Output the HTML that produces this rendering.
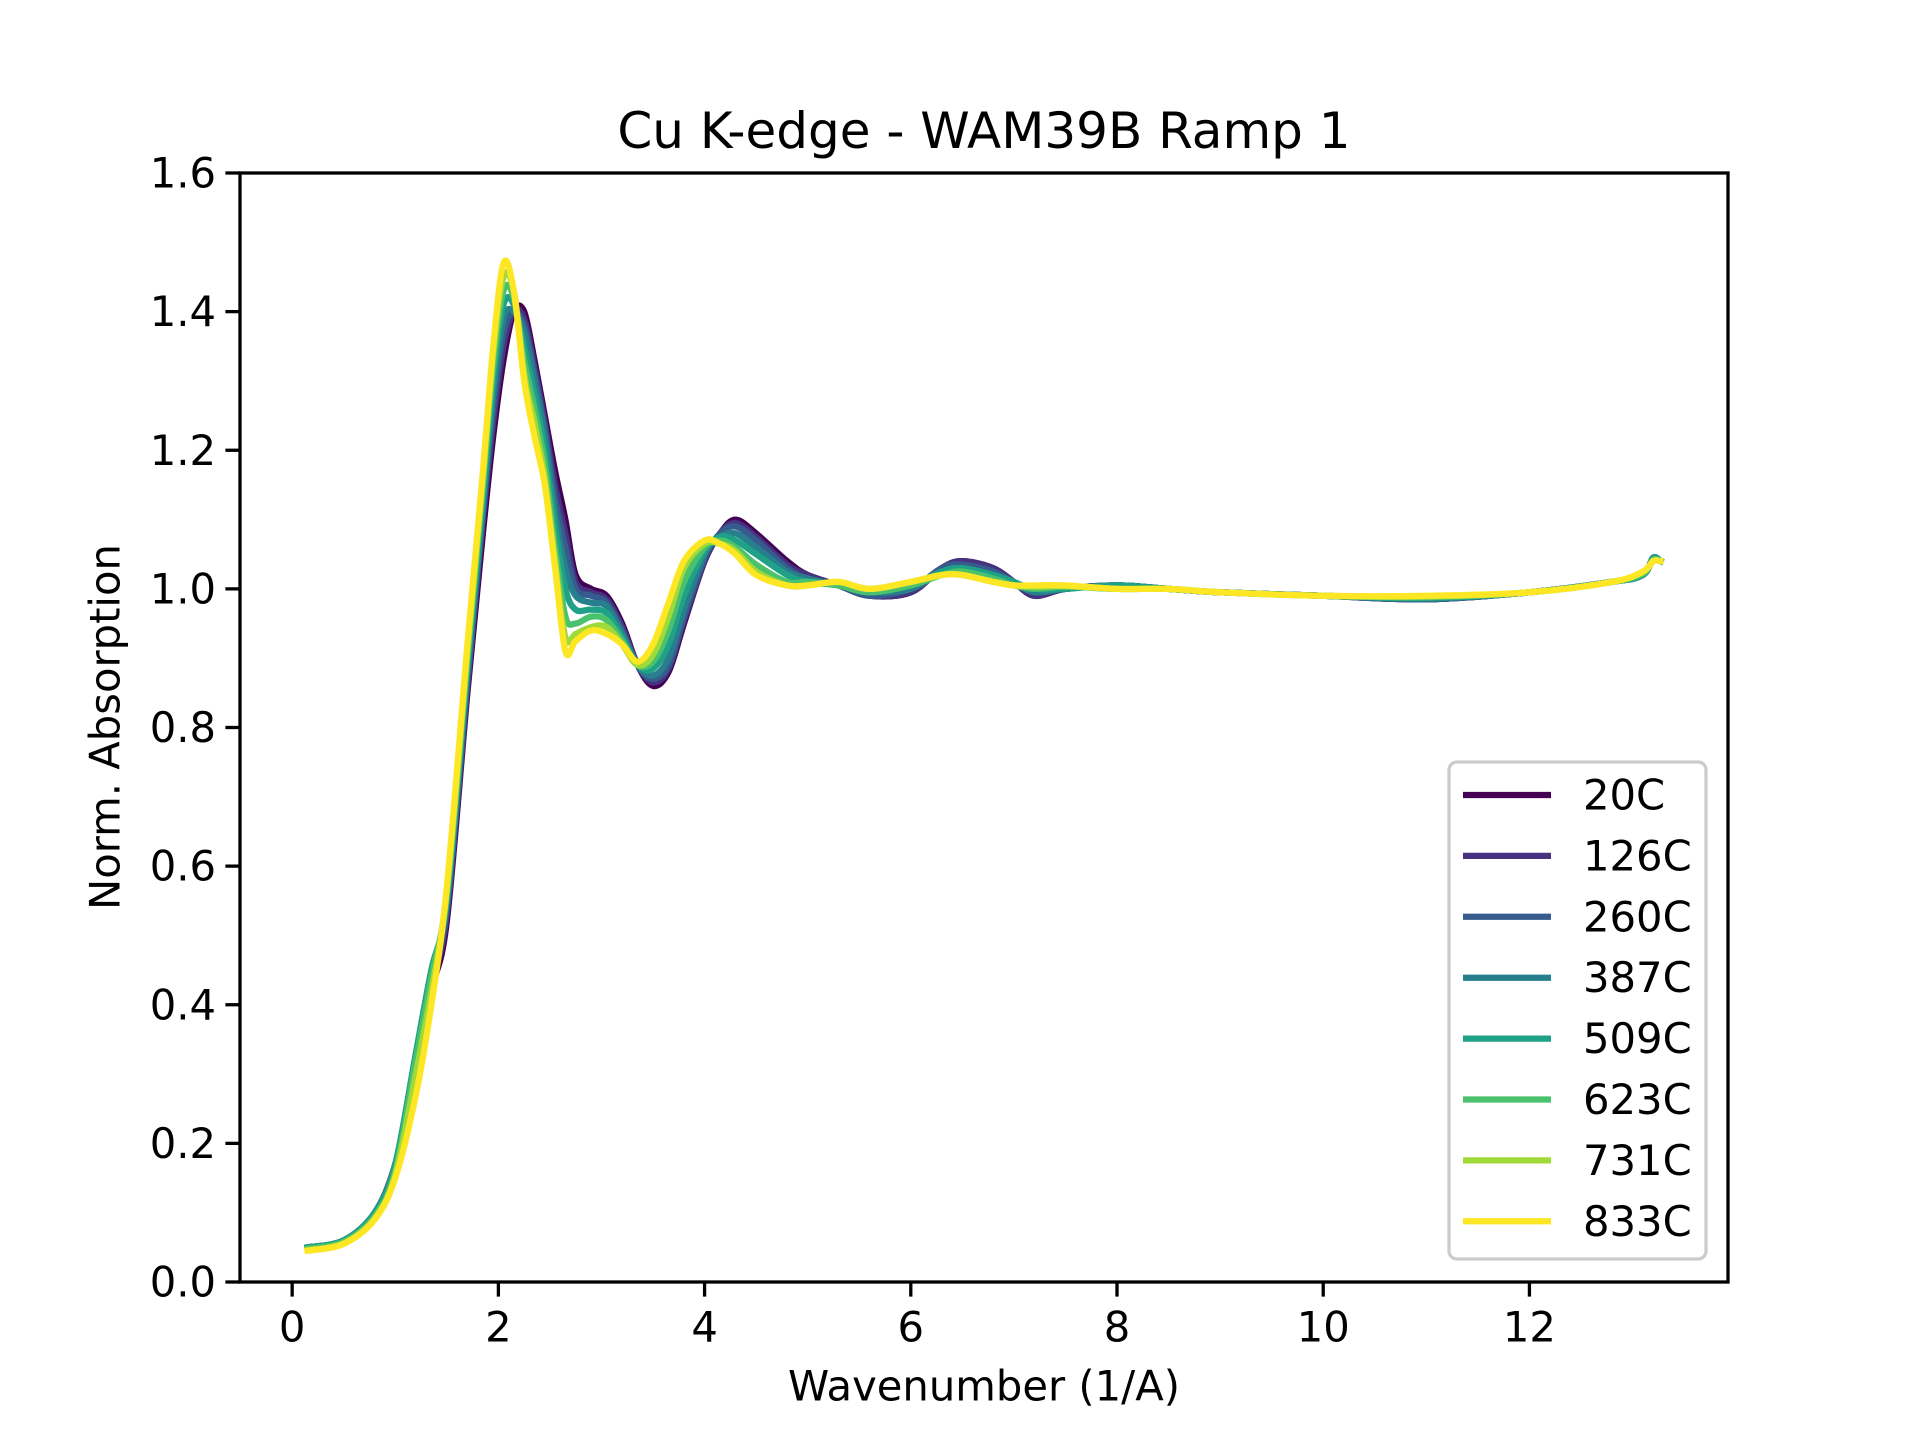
<!DOCTYPE html>
<html><head><meta charset="utf-8"><style>
body{margin:0;background:#fff}
svg{display:block;font-family:"DejaVu Sans","Liberation Sans",sans-serif}
</style></head><body>
<svg id="chart" width="1920" height="1440" viewBox="0 0 1920 1440" xmlns="http://www.w3.org/2000/svg">
<rect width="1920" height="1440" fill="#fff"/>
<text x="984" y="131" font-size="50" text-anchor="middle" dominant-baseline="central">Cu K-edge - WAM39B Ramp 1</text>
<g id="plot"></g>
<g id="axes"></g>
<text x="984" y="1386" font-size="41.7" text-anchor="middle" dominant-baseline="central">Wavenumber (1/A)</text>
<text x="0" y="0" font-size="41.7" text-anchor="middle" dominant-baseline="central" transform="translate(105,727) rotate(-90)">Norm. Absorption</text>
<g id="legend"></g>
</svg>
<script>
const labels=["20C","126C","260C","387C","509C","623C","731C","833C"];
const colors=["#440154","#46327e","#365c8d","#277f8e","#1fa187","#4ac16d","#a0da39","#fde725"];
const xs=[0.15,0.5,0.8,1.0,1.2,1.35,1.5,1.7,1.85,1.95,2.05,2.15,2.25,2.35,2.45,2.55,2.65,2.75,2.9,3.05,3.2,3.35,3.5,3.65,3.8,4.0,4.15,4.3,4.5,4.8,5.0,5.3,5.6,6.0,6.3,6.5,6.8,7.0,7.2,7.5,8.0,8.5,9.0,10,11,12,12.8,13.1,13.2,13.27];
const tail=[1.005,1.0,0.995,0.99,0.985,0.995,1.01,1.02,1.045,1.04];
const y20=[0.05,0.06,0.10,0.17,0.30,0.42,0.52,0.85,1.08,1.22,1.33,1.40,1.40,1.33,1.25,1.17,1.10,1.02,1.00,0.99,0.95,0.89,0.86,0.88,0.95,1.04,1.08,1.10,1.08,1.04,1.02,1.005,0.99,0.995,1.03,1.04,1.03,1.01,0.99,1.0,1.005,1.0,0.995,0.99,0.985,0.995,1.01,1.02,1.045,1.04];
const y126=[0.05,0.06,0.10,0.17,0.31,0.43,0.53,0.86,1.10,1.24,1.35,1.40,1.39,1.32,1.24,1.15,1.08,1.01,0.995,0.985,0.945,0.89,0.865,0.885,0.955,1.04,1.08,1.095,1.075,1.035,1.02,1.005,0.99,0.995,1.03,1.04,1.03,1.01,0.99,1.0,1.005,1.0,0.995,0.99,0.985,0.995,1.01,1.02,1.045,1.04];
const y260=[0.05,0.06,0.10,0.17,0.32,0.44,0.54,0.87,1.11,1.26,1.37,1.40,1.38,1.31,1.23,1.13,1.06,1.0,0.99,0.98,0.94,0.89,0.87,0.89,0.96,1.045,1.08,1.09,1.07,1.03,1.015,1.005,0.99,1.0,1.03,1.035,1.025,1.01,0.995,1.0,1.005,1.0,0.995,0.99,0.985,0.995,1.01,1.02,1.045,1.04];
const y387=[0.05,0.06,0.10,0.17,0.33,0.45,0.55,0.88,1.12,1.28,1.39,1.40,1.37,1.30,1.22,1.11,1.03,0.99,0.98,0.975,0.935,0.89,0.875,0.90,0.97,1.05,1.075,1.08,1.06,1.025,1.015,1.005,0.995,1.0,1.025,1.03,1.02,1.01,0.995,1.0,1.005,1.0,0.995,0.99,0.986,0.995,1.01,1.02,1.045,1.04];
const y509=[0.05,0.06,0.10,0.17,0.33,0.45,0.55,0.89,1.13,1.30,1.41,1.41,1.35,1.28,1.20,1.09,1.0,0.97,0.97,0.965,0.93,0.89,0.885,0.92,0.99,1.055,1.075,1.07,1.05,1.02,1.01,1.005,0.995,1.005,1.025,1.03,1.02,1.01,1.0,1.0,1.005,1.0,0.995,0.99,0.987,0.995,1.01,1.02,1.045,1.04];
const y623=[0.048,0.058,0.095,0.16,0.32,0.44,0.56,0.90,1.15,1.32,1.43,1.42,1.33,1.26,1.18,1.06,0.96,0.95,0.96,0.955,0.925,0.89,0.895,0.94,1.01,1.06,1.07,1.06,1.035,1.01,1.01,1.005,0.995,1.005,1.02,1.025,1.015,1.005,1.0,1.003,1.0,1.0,0.995,0.99,0.988,0.995,1.01,1.022,1.042,1.04];
const y731=[0.046,0.056,0.092,0.155,0.30,0.42,0.565,0.91,1.16,1.34,1.45,1.43,1.31,1.24,1.16,1.04,0.93,0.935,0.945,0.945,0.92,0.89,0.905,0.96,1.03,1.065,1.065,1.055,1.025,1.005,1.005,1.01,1.0,1.01,1.02,1.02,1.01,1.005,1.003,1.004,1.0,1.0,0.995,0.99,0.989,0.995,1.01,1.024,1.04,1.04];
const y833=[0.045,0.055,0.09,0.15,0.27,0.40,0.57,0.92,1.17,1.35,1.47,1.43,1.30,1.22,1.15,1.03,0.91,0.925,0.94,0.935,0.92,0.895,0.92,0.98,1.04,1.07,1.065,1.05,1.02,1.005,1.005,1.01,1.0,1.01,1.02,1.02,1.01,1.005,1.005,1.005,1.0,1.0,0.995,0.99,0.99,0.995,1.01,1.025,1.04,1.04];
const series=[y20,y126,y260,y387,y509,y623,y731,y833];
const xTicks=[0,2,4,6,8,10,12];
const yTicks=[0.0,0.2,0.4,0.6,0.8,1.0,1.2,1.4,1.6];

const L=240,R=1728,T=173,B=1282;
const xMin=-0.506,xMax=13.926,yMin=0,yMax=1.6;
const sx=v=>L+(v-xMin)/(xMax-xMin)*(R-L);
const sy=v=>B-(v-yMin)/(yMax-yMin)*(B-T);
const NS="http://www.w3.org/2000/svg";
function mk(tag,attrs,parent){const e=document.createElementNS(NS,tag);for(const k in attrs)e.setAttribute(k,attrs[k]);parent.appendChild(e);return e;}
const plot=document.getElementById('plot'),axes=document.getElementById('axes'),leg=document.getElementById('legend');

// smooth path via Catmull-Rom
function pathFor(ys){
  const p=xs.map((x,i)=>[sx(x),sy(ys[i])]);
  let d="M"+p[0][0].toFixed(1)+","+p[0][1].toFixed(1);
  for(let i=0;i<p.length-1;i++){
    const p0=p[Math.max(0,i-1)],p1=p[i],p2=p[i+1],p3=p[Math.min(p.length-1,i+2)];
    const c1=[p1[0]+(p2[0]-p0[0])/6,p1[1]+(p2[1]-p0[1])/6];
    const c2=[p2[0]-(p3[0]-p1[0])/6,p2[1]-(p3[1]-p1[1])/6];
    d+=" C"+c1[0].toFixed(1)+","+c1[1].toFixed(1)+" "+c2[0].toFixed(1)+","+c2[1].toFixed(1)+" "+p2[0].toFixed(1)+","+p2[1].toFixed(1);
  }
  return d;
}
series.forEach((ys,i)=>{
  const e=mk('path',{d:pathFor(ys),fill:'none',stroke:colors[i],'stroke-width':6.25,'stroke-linejoin':'round','stroke-linecap':'square'},plot);
  
  
});

// frame
const fr=mk('rect',{x:L,y:T,width:R-L,height:B-T,fill:'none',stroke:'#000','stroke-width':3.3},axes);


xTicks.forEach(v=>{
  const x=sx(v);
  const t=mk('line',{x1:x,x2:x,y1:B,y2:B+14.6,stroke:'#000','stroke-width':3.3},axes);
  
  
  const l=mk('text',{x:x,y:B+45,'font-size':41.7,'text-anchor':'middle','dominant-baseline':'central'},axes);
  l.textContent=v;
  
  
});
yTicks.forEach(v=>{
  const y=sy(v);
  const t=mk('line',{x1:L-14.6,x2:L,y1:y,y2:y,stroke:'#000','stroke-width':3.3},axes);
  
  
  const l=mk('text',{x:L-24,y:y,'font-size':41.7,'text-anchor':'end','dominant-baseline':'central'},axes);
  l.textContent=v.toFixed(1);
  
  
});

// legend
const box=mk('rect',{x:1449,y:762,width:257,height:497,rx:8,fill:'#fff','fill-opacity':0.8,stroke:'#cccccc','stroke-width':3.3},leg);


labels.forEach((lab,i)=>{
  const y=795+i*60.9;
  const g=mk('g',{},leg);
  
  
  mk('line',{x1:1463,x2:1551,y1:y,y2:y,stroke:colors[i],'stroke-width':6.25},g);
  const t=mk('text',{x:1583,y:y,'font-size':41.7,'dominant-baseline':'central'},g);
  t.textContent=lab;
});
</script>
</body></html>
